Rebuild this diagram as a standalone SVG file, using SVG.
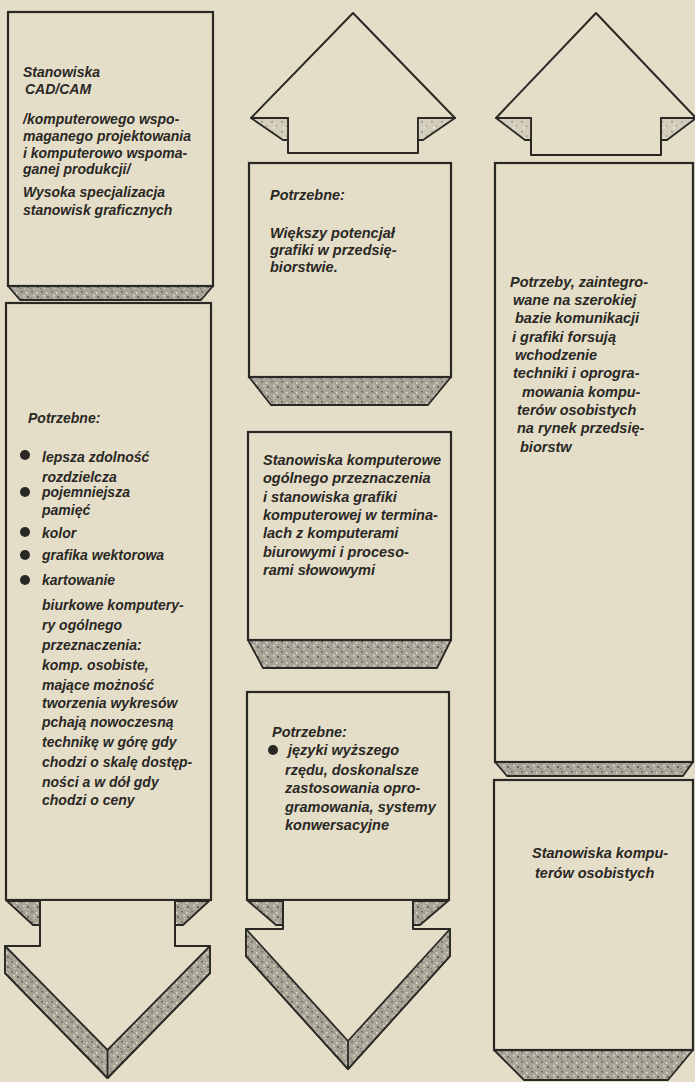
<svg xmlns="http://www.w3.org/2000/svg" width="695" height="1082" viewBox="0 0 695 1082">
<style>
.bg{fill:#e4dec9}
.box{fill:#e4dec9;stroke:#2a2824;stroke-width:2.2}
.sh{fill:url(#stip);stroke:#2a2824;stroke-width:1.8;stroke-linejoin:round}
.shl{fill:url(#stipl);stroke:#2a2824;stroke-width:1.8;stroke-linejoin:round}
.ar{fill:#e4dec9;stroke:#2a2824;stroke-width:2;stroke-linejoin:round}
.ln{fill:none;stroke:#2a2824;stroke-width:1.8}
.t{font-family:"Liberation Sans",Arial,sans-serif;font-style:italic;font-weight:bold;font-size:14px;fill:#2a2824}
.t2{font-size:14.5px}
.dot{fill:#2a2824}
</style>
<defs>
<pattern id="stip" width="10" height="10" patternUnits="userSpaceOnUse">
<rect width="10" height="10" fill="#a9a498"/>
<rect x="1" y="1" width="2" height="1.5" fill="#6f6b62"/>
<rect x="6" y="2" width="1.5" height="2" fill="#d9d4c3"/>
<rect x="3" y="5" width="2" height="1.5" fill="#d9d4c3"/>
<rect x="7" y="6" width="2" height="2" fill="#6f6b62"/>
<rect x="0" y="8" width="1.5" height="1.5" fill="#85807a"/>
<rect x="4" y="8" width="1.5" height="1" fill="#cfc9b8"/>
</pattern>
<pattern id="stipl" width="10" height="10" patternUnits="userSpaceOnUse">
<rect width="10" height="10" fill="#d3cdbb"/>
<rect x="1" y="1" width="2" height="1.5" fill="#9d988c"/>
<rect x="6" y="5" width="1.5" height="2" fill="#b3ad9f"/>
<rect x="3" y="7" width="2" height="1.5" fill="#eee9d8"/>
</pattern>
</defs>
<rect class="bg" x="0" y="0" width="695" height="1082"/>

<g id="node-cadcam">
<polygon class="sh" points="8,286 213,286 201,300 20,300"/>
<rect class="box" x="8" y="12" width="205" height="274"/>
<text class="t" x="23" y="77">Stanowiska</text>
<text class="t" x="25" y="94">CAD/CAM</text>
<text class="t" x="23" y="124">/komputerowego wspo-</text>
<text class="t" x="23" y="141">maganego projektowania</text>
<text class="t" x="23" y="158">i komputerowo wspoma-</text>
<text class="t" x="23" y="174">ganej produkcji/</text>
<text class="t" x="23" y="197">Wysoka specjalizacja</text>
<text class="t" x="23" y="215">stanowisk graficznych</text>
</g>

<g id="node-potrzebne-1">
<polygon class="sh" points="7,901 209,901 183,925 33,925"/>
<rect class="box" x="6" y="303" width="205" height="597"/>
<text class="t" x="28" y="423">Potrzebne:</text>
<circle class="dot" cx="25" cy="455" r="5"/>
<text class="t" x="42" y="462">lepsza zdolność</text>
<text class="t" x="42" y="482">rozdzielcza</text>
<circle class="dot" cx="25" cy="492" r="5"/>
<text class="t" x="42" y="497">pojemniejsza</text>
<text class="t" x="42" y="515">pamięć</text>
<circle class="dot" cx="25" cy="532" r="5"/>
<text class="t" x="42" y="538">kolor</text>
<circle class="dot" cx="25" cy="555" r="5"/>
<text class="t" x="42" y="560">grafika wektorowa</text>
<circle class="dot" cx="25" cy="580" r="5"/>
<text class="t" x="42" y="585">kartowanie</text>
<text class="t" x="42" y="610">biurkowe komputery-</text>
<text class="t" x="42" y="630">ry ogólnego</text>
<text class="t" x="42" y="650">przeznaczenia:</text>
<text class="t" x="42" y="670">komp. osobiste,</text>
<text class="t" x="42" y="690">mające możność</text>
<text class="t" x="42" y="708">tworzenia wykresów</text>
<text class="t" x="42" y="727">pchają nowoczesną</text>
<text class="t" x="42" y="747">technikę w górę gdy</text>
<text class="t" x="42" y="767">chodzi o skalę dostęp-</text>
<text class="t" x="42" y="787">ności a w dół gdy</text>
<text class="t" x="42" y="805">chodzi o ceny</text>
</g>

<g id="node-potrzebne-2">
<polygon class="sh" points="249,377 451,377 428,405 271,405"/>
<rect class="box" x="249" y="163" width="202" height="214"/>
<text class="t t2" x="270" y="200">Potrzebne:</text>
<text class="t t2" x="270" y="238">Większy potencjał</text>
<text class="t t2" x="270" y="255">grafiki w przedsię-</text>
<text class="t t2" x="270" y="272">biorstwie.</text>
</g>

<g id="node-stanowiska-ogolne">
<polygon class="sh" points="248,640 451,640 437,668 263,668"/>
<rect class="box" x="248" y="432" width="203" height="208"/>
<text class="t t2" x="263" y="465">Stanowiska komputerowe</text>
<text class="t t2" x="263" y="483">ogólnego przeznaczenia</text>
<text class="t t2" x="263" y="502">i stanowiska grafiki</text>
<text class="t t2" x="263" y="520">komputerowej w termina-</text>
<text class="t t2" x="263" y="538">lach z komputerami</text>
<text class="t t2" x="263" y="557">biurowymi i proceso-</text>
<text class="t t2" x="263" y="575">rami słowowymi</text>
</g>

<g id="node-potrzebne-3">
<polygon class="sh" points="248,901 448,901 420,925 276,925"/>
<rect class="box" x="247" y="692" width="202" height="208"/>
<text class="t t2" x="272" y="737">Potrzebne:</text>
<circle class="dot" cx="273" cy="750" r="5"/>
<text class="t t2" x="288" y="755">języki wyższego</text>
<text class="t t2" x="285" y="775">rzędu, doskonalsze</text>
<text class="t t2" x="285" y="793">zastosowania opro-</text>
<text class="t t2" x="285" y="812">gramowania, systemy</text>
<text class="t t2" x="285" y="830">konwersacyjne</text>
</g>

<g id="node-potrzeby-4">
<polygon class="sh" points="495,762 693,762 683,776 507,776"/>
<rect class="box" x="495" y="163" width="198" height="599"/>
<text class="t t2" x="510" y="287">Potrzeby, zaintegro-</text>
<text class="t t2" x="513" y="305">wane na szerokiej</text>
<text class="t t2" x="515" y="323">bazie komunikacji</text>
<text class="t t2" x="512" y="342">i grafiki forsują</text>
<text class="t t2" x="515" y="360">wchodzenie</text>
<text class="t t2" x="513" y="378">techniki i oprogra-</text>
<text class="t t2" x="522" y="397">mowania kompu-</text>
<text class="t t2" x="517" y="415">terów osobistych</text>
<text class="t t2" x="517" y="433">na rynek przedsię-</text>
<text class="t t2" x="520" y="452">biorstw</text>
</g>

<g id="node-stanowiska-osobiste">
<polygon class="sh" points="494,1050 693,1050 668,1080 524,1080"/>
<rect class="box" x="494" y="780" width="199" height="270"/>
<text class="t t2" x="532" y="858">Stanowiska kompu-</text>
<text class="t t2" x="535" y="878">terów osobistych</text>
</g>

<g id="connectors">
<!-- column 1 down arrow -->
<path class="ar" d="M40,901 V946 H5 V973 L107.5,1078 L210,973 V946 H175 V901"/>
<polygon class="sh" points="5,946 107.5,1050 210,946 210,973 107.5,1078 5,973"/>
<line class="ln" x1="107.5" y1="1050" x2="107.5" y2="1078"/>
<!-- column 2 up arrow -->
<path class="ar" d="M288,153 V118 H251 L353,13 L455,118 H418 V153 Z"/>
<polygon class="shl" points="251,118 288,118 288,140 283,140"/>
<polygon class="shl" points="455,118 418,118 418,140 423,140"/>
<!-- column 2 down arrow -->
<path class="ar" d="M283,901 V929 H246 V956 L348,1069 L450,956 V929 H413 V901"/>
<polygon class="sh" points="246,929 348,1041 450,929 450,956 348,1069 246,956"/>
<line class="ln" x1="348" y1="1041" x2="348" y2="1069"/>
<!-- column 3 up arrow -->
<path class="ar" d="M531,155 V118 H496 L596,13 L696,118 H661 V155 Z"/>
<polygon class="shl" points="496,118 531,118 531,140 525,140"/>
<polygon class="shl" points="696,118 661,118 661,140 667,140"/>
</g>
</svg>
